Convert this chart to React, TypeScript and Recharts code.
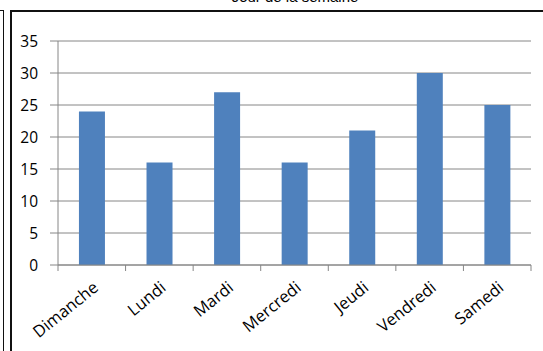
import React from "react";
import { BarChart, Bar, XAxis, YAxis, CartesianGrid } from "recharts";

const days = ["Dimanche", "Lundi", "Mardi", "Mercredi", "Jeudi", "Vendredi", "Samedi"];
const counts = [24, 16, 27, 16, 21, 30, 25];
const yTicks = [0, 5, 10, 15, 20, 25, 30, 35];

const data = days.map((d, i) => ({ day: d, count: counts[i] }));

const AXIS_GREY = "#868686";
const BAR_BLUE = "#4f81bd";
const LABEL_FONT = "'Open Sans', 'DejaVu Sans', sans-serif";
const TICK = 6;

// ticks sit between the categories (Excel style), labels slanted up to the right
function DayTick(props: any) {
  const { x, y, payload, index } = props;
  const off = payload.offset ?? 0;
  const axisY = y - TICK;
  const lx = x + 4;
  const ly = y + 14;
  return (
    <g>
      <line x1={x - off} x2={x - off} y1={axisY} y2={axisY + TICK} stroke={AXIS_GREY} />
      {index === days.length - 1 && (
        <line x1={x + off} x2={x + off} y1={axisY} y2={axisY + TICK} stroke={AXIS_GREY} />
      )}
      <text
        x={lx}
        y={ly}
        dy="0.35em"
        textAnchor="end"
        transform={`rotate(-39, ${lx}, ${ly})`}
        fill="#000"
        fontSize={16.5}
        fontFamily={LABEL_FONT}
      >
        {payload.value}
      </text>
    </g>
  );
}

export default function App() {
  return (
    <div
      style={{
        position: "absolute",
        left: 0,
        top: 0,
        width: 543,
        height: 351,
        overflow: "hidden",
        background: "#fff",
      }}
    >
      {/* frame of the neighbouring cell on the left */}
      <div
        style={{
          position: "absolute",
          left: -20,
          top: 10,
          width: 22,
          height: 400,
          border: "1.5px solid #111",
        }}
      />
      {/* chart frame */}
      <div
        style={{
          position: "absolute",
          left: 10,
          top: 10,
          width: 560,
          height: 400,
          borderLeft: "2px solid #111",
          borderTop: "2px solid #111",
        }}
      />
      <div
        style={{
          position: "absolute",
          left: 0,
          width: 590,
          top: -12,
          textAlign: "center",
          fontFamily: "'Liberation Sans', Arial, sans-serif",
          fontSize: 15,
          lineHeight: "17px",
          color: "#000",
        }}
      >
        Jour de la semaine
      </div>
      <div style={{ position: "absolute", left: 0, top: 0 }}>
        <BarChart
          width={543}
          height={351}
          data={data}
          margin={{ top: 41, right: 12, bottom: 0, left: 0 }}
          barCategoryGap="31%"
        >
          <CartesianGrid vertical={false} stroke={AXIS_GREY} />
          <XAxis
            dataKey="day"
            height={86}
            interval={0}
            tickLine={false}
            tickSize={TICK}
            tickMargin={0}
            axisLine={{ stroke: AXIS_GREY }}
            tick={<DayTick />}
          />
          <YAxis
            width={58}
            domain={[0, 35]}
            ticks={yTicks}
            interval={0}
            tickSize={8}
            tickMargin={12}
            axisLine={{ stroke: AXIS_GREY }}
            tickLine={{ stroke: AXIS_GREY }}
            tick={{ fill: "#000", fontSize: 15.5, fontFamily: LABEL_FONT }}
          />
          <Bar dataKey="count" fill={BAR_BLUE} isAnimationActive={false} />
        </BarChart>
      </div>
    </div>
  );
}
